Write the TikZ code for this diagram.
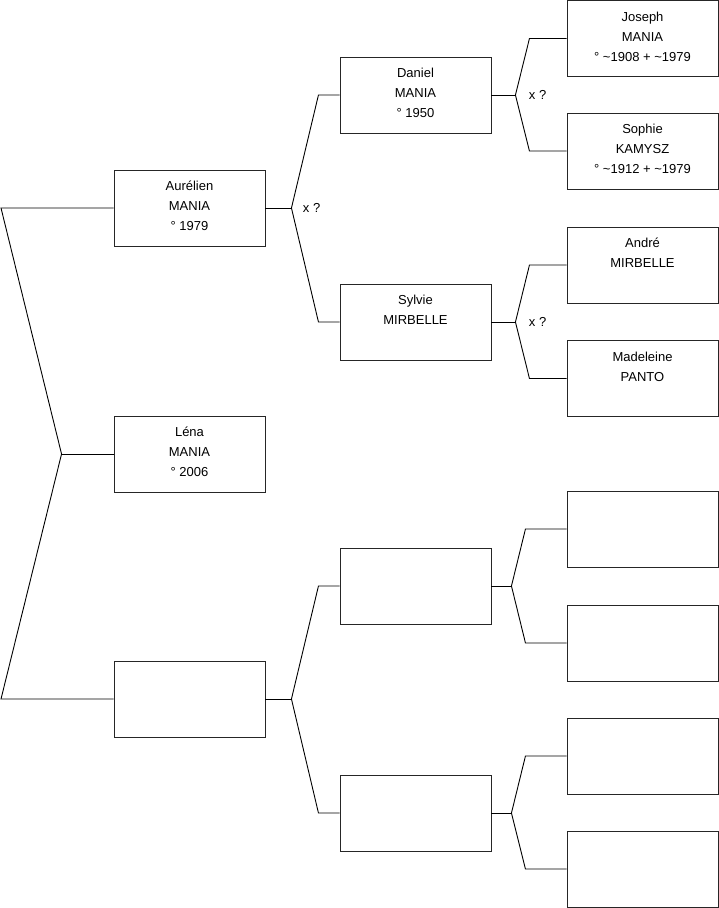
\documentclass[tikz,border=0pt]{standalone}
\usepackage{fontspec}
\setmainfont{Liberation Sans}
\usetikzlibrary{positioning,calc}

\begin{document}
\begin{tikzpicture}[x=1pt,y=-1pt,
  every node/.style={font=\fontsize{13}{20}\selectfont},
  person/.style={draw=black!85, line width=0.9pt, minimum width=151pt,
                 minimum height=76pt, inner sep=0pt},
  lbl/.style={anchor=north, inner sep=0pt, yshift=-11.5pt, align=center},
  ln/.style={line width=0.9pt, line join=miter},
]
  \useasboundingbox (0,0) rectangle (719,908);
  \coordinate (edge) at (1,0);

  % generation 1
  \node[person, label={[lbl]north:Aurélien\\MANIA\\° 1979}] (aur)  at (189.5,208) {};
  \node[person, label={[lbl]north:Léna\\MANIA\\° 2006}]     (lena) at (189.5,454) {};
  \node[person] (u1) at (189.5,699) {};

  % generation 2
  \node[person, label={[lbl]north:Daniel\\MANIA\\° 1950}] (dan) at (415.5,95) {};
  \node[person, label={[lbl]north:Sylvie\\MIRBELLE}]      (syl) at (415.5,322) {};
  \node[person] (u2) at (415.5,586) {};
  \node[person] (u3) at (415.5,813) {};

  % generation 3
  \node[person, label={[lbl]north:Joseph\\MANIA\\° \textasciitilde1908 + \textasciitilde1979}]  (jos) at (642.5,38.5) {};
  \node[person, label={[lbl]north:Sophie\\KAMYSZ\\° \textasciitilde1912 + \textasciitilde1979}] (sop) at (642.5,151) {};
  \node[person, label={[lbl]north:André\\MIRBELLE}]  (and) at (642.5,265) {};
  \node[person, label={[lbl]north:Madeleine\\PANTO}] (mad) at (642.5,378.5) {};
  \node[person] (u4) at (642.5,529) {};
  \node[person] (u5) at (642.5,643) {};
  \node[person] (u6) at (642.5,756) {};
  \node[person] (u7) at (642.5,869) {};

  % parents of Léna (round the left side)
  \coordinate (j-lena) at ($(lena.west)+(-52,0)$);
  \draw[ln] (lena.west) -- (j-lena);
  \draw[ln] (aur.west) -- (aur.west -| edge) -- (j-lena)
            -- (u1.west -| edge) -- (u1.west);

  % forks to the parents
  \foreach \c/\f/\m/\a/\b in {aur/dan/syl/26/53, u1/u2/u3/26/53,
                              dan/jos/sop/24/38, syl/and/mad/24/38,
                              u2/u4/u5/20/34, u3/u6/u7/20/34}{
    \coordinate (j-\c) at ($(\c.east)+(\a,0)$);
    \draw[ln] (\c.east) -- (j-\c);
    \draw[ln] (\f.west) -- ([xshift=\b pt]\c.east |- \f.west) -- (j-\c)
              -- ([xshift=\b pt]\c.east |- \m.west) -- (\m.west);
  }

  % unions
  \node[right=8pt of j-aur] (x-aur) {x ?};
  \node[right=10pt of j-dan] (x-dan) {x ?};
  \node[right=10pt of j-syl] (x-syl) {x ?};
\end{tikzpicture}
\end{document}
